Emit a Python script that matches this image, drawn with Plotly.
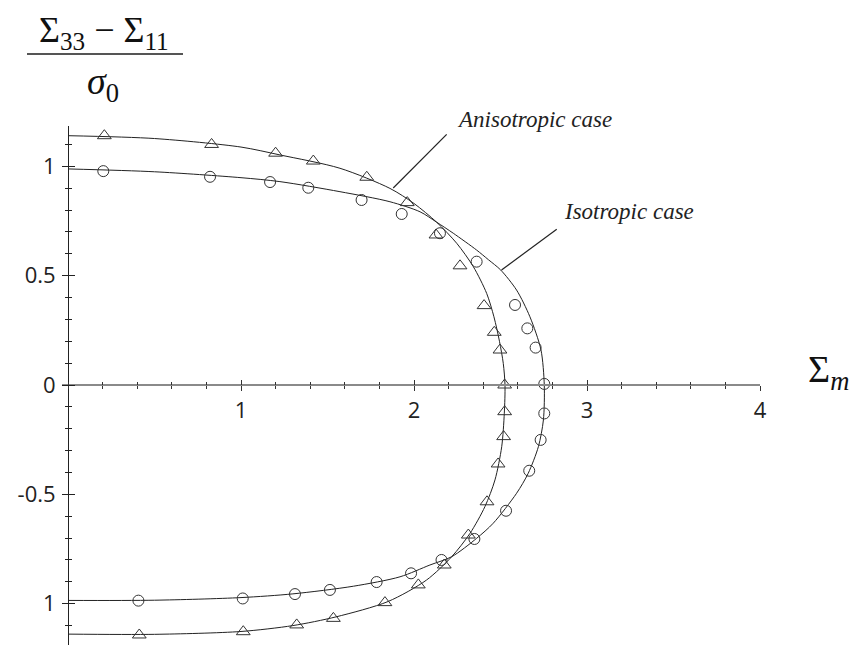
import plotly.graph_objects as go

aniso_curve_x = [0, 0.5, 1.0, 1.225, 1.572, 1.861, 2.0, 2.13, 2.247, 2.343, 2.42, 2.462, 2.494, 2.516, 2.526,
                 2.522, 2.507, 2.468, 2.41, 2.324, 2.218, 2.072, 1.85, 1.55, 1.3, 1.0, 0.5, 0]
aniso_curve_y = [1.14, 1.127, 1.088, 1.052, 0.991, 0.899, 0.83, 0.745, 0.648, 0.541, 0.419, 0.312, 0.2, 0.099, 0.0,
                 -0.129, -0.282, -0.434, -0.556, -0.678, -0.785, -0.892, -0.99, -1.06, -1.1, -1.127, -1.14, -1.139]

iso_curve_x = [0, 0.5, 1.0, 1.225, 1.572, 1.861, 2.035, 2.13, 2.227, 2.362, 2.43, 2.501, 2.593, 2.67, 2.734, 2.753,
               2.748, 2.719, 2.66, 2.593, 2.458, 2.362, 2.218, 2.092, 1.919, 1.65, 1.3, 1.0, 0.5, 0]
iso_curve_y = [0.988, 0.975, 0.948, 0.93, 0.884, 0.838, 0.792, 0.745, 0.694, 0.617, 0.573, 0.526, 0.434, 0.312, 0.16, 0.0,
               -0.16, -0.282, -0.404, -0.495, -0.632, -0.701, -0.785, -0.823, -0.877, -0.92, -0.955, -0.972, -0.984, -0.985]

# simulation points
aniso_pts_x = [0.21, 0.83, 1.20, 1.418, 1.727, 1.961, 2.127, 2.266, 2.405, 2.464, 2.497, 2.524,
               2.524, 2.518, 2.486, 2.422, 2.314, 2.175, 2.025, 1.832, 1.534, 1.322, 1.013, 0.412]
aniso_pts_y = [1.14, 1.10, 1.06, 1.024, 0.950, 0.834, 0.686, 0.545, 0.363, 0.241, 0.160, 0.0,
               -0.122, -0.236, -0.361, -0.534, -0.686, -0.823, -0.914, -0.995, -1.067, -1.097, -1.128, -1.143]

iso_pts_x = [0.204, 0.821, 1.168, 1.389, 1.697, 1.929, 2.150, 2.362, 2.584, 2.655, 2.703, 2.753,
             2.753, 2.732, 2.666, 2.532, 2.349, 2.159, 1.983, 1.784, 1.514, 1.312, 1.010, 0.407]
iso_pts_y = [0.978, 0.952, 0.928, 0.902, 0.846, 0.782, 0.694, 0.564, 0.366, 0.259, 0.171, 0.005,
             -0.130, -0.251, -0.392, -0.575, -0.704, -0.800, -0.861, -0.901, -0.937, -0.956, -0.976, -0.986]

x_ticks = [1, 2, 3, 4]
x_ticktext = ['1', '2', '3', '4']
y_ticks = [-1, -0.5, 0, 0.5, 1]
y_ticktext = ['1', '-0.5', '0', '0.5', '1']

# the page body adds an 8px margin, so the figure is 8px smaller than the window
OFF = 8
W, H = 861 - OFF, 646 - OFF
L, R, T, B = 62 - OFF, 101, 126 - OFF, 1
PW, PH = W - L - R, H - T - B
XR = [-0.0347, 4.0]
YR = [-1.1888, 1.1843]


def px(xp):
    # window pixel -> paper x
    return (xp - OFF - L) / PW


def py(yp):
    # window pixel -> paper y
    return (H - B - (yp - OFF)) / PH


fig = go.Figure()

fig.add_trace(go.Scatter(x=aniso_curve_x, y=aniso_curve_y, mode='lines',
                         line=dict(color='#222', width=1, shape='spline', smoothing=0.8),
                         showlegend=False, hoverinfo='skip'))
fig.add_trace(go.Scatter(x=iso_curve_x, y=iso_curve_y, mode='lines',
                         line=dict(color='#222', width=1, shape='spline', smoothing=0.8),
                         showlegend=False, hoverinfo='skip'))
fig.add_trace(go.Scatter(x=aniso_pts_x, y=aniso_pts_y, mode='markers',
                         marker=dict(symbol='triangle-up-open', size=12, color='#333',
                                     line=dict(width=1, color='#333')),
                         showlegend=False))
fig.add_trace(go.Scatter(x=iso_pts_x, y=iso_pts_y, mode='markers',
                         marker=dict(symbol='circle-open', size=11, color='#333',
                                     line=dict(width=1, color='#333')),
                         showlegend=False))
# empty trace so the overlay axes (inner half of the ticks) get drawn
fig.add_trace(go.Scatter(x=[], y=[], xaxis='x2', yaxis='y2', showlegend=False))

tickfont = dict(family='Open Sans', size=22, color='#222')
xpos = py(385)
ypos = px(68)

fig.update_layout(
    width=W, height=H,
    margin=dict(l=L, r=R, t=T, b=B),
    paper_bgcolor='white', plot_bgcolor='white',
    xaxis=dict(range=XR, anchor='free', position=xpos, side='bottom',
               showgrid=False, zeroline=False, showline=True, linecolor='#8a8a8a', linewidth=2,
               tickmode='array', tickvals=x_ticks, ticktext=x_ticktext,
               ticks='outside', ticklen=5, tickwidth=1, tickcolor='#333',
               minor=dict(tickmode='linear', tick0=0, dtick=0.2, ticks='outside',
                          ticklen=3, tickwidth=1, tickcolor='#333', showgrid=False),
               tickfont=tickfont, ticklabelstandoff=1, automargin=False),
    yaxis=dict(range=YR, anchor='free', position=ypos, side='left',
               showgrid=False, zeroline=False, showline=True, linecolor='#222', linewidth=1,
               tickmode='array', tickvals=y_ticks, ticktext=y_ticktext,
               ticks='outside', ticklen=6, tickwidth=1, tickcolor='#222',
               minor=dict(tickmode='linear', tick0=0, dtick=0.1, ticks='outside',
                          ticklen=3, tickwidth=1, tickcolor='#222', showgrid=False),
               tickfont=tickfont, ticklabelstandoff=2, automargin=False),
    xaxis2=dict(range=XR, overlaying='x', anchor='free', position=xpos, side='bottom',
                showgrid=False, zeroline=False, showline=False, showticklabels=False,
                tickmode='array', tickvals=x_ticks,
                ticks='inside', ticklen=5, tickwidth=1, tickcolor='#333',
                minor=dict(tickmode='linear', tick0=0, dtick=0.2, ticks='inside',
                           ticklen=3, tickwidth=1, tickcolor='#333', showgrid=False)),
    yaxis2=dict(range=YR, overlaying='y', anchor='free', position=ypos, side='left',
                showgrid=False, zeroline=False, showline=False, showticklabels=False,
                tickmode='array', tickvals=y_ticks,
                ticks='inside', ticklen=6, tickwidth=1, tickcolor='#222',
                minor=dict(tickmode='linear', tick0=0, dtick=0.1, ticks='inside',
                           ticklen=3, tickwidth=1, tickcolor='#222', showgrid=False)),
)

serif = 'Liberation Serif'

# leader lines for the curve labels
fig.add_shape(type='line', xref='x', yref='y', x0=2.189, y0=1.146, x1=1.880, y1=0.901,
              line=dict(color='#222', width=1.2))
fig.add_shape(type='line', xref='x', yref='y', x0=2.825, y0=0.712, x1=2.506, y1=0.526,
              line=dict(color='#222', width=1.2))
fig.add_annotation(x=px(455), y=py(119), xref='paper', yref='paper', xanchor='left', yanchor='middle',
                   text='<i>Anisotropic case</i>', showarrow=False,
                   font=dict(family=serif, size=23, color='#222'))
fig.add_annotation(x=px(562), y=py(212), xref='paper', yref='paper', xanchor='left', yanchor='middle',
                   text='<i>Isotropic case</i>', showarrow=False,
                   font=dict(family=serif, size=23, color='#222'))

# y-axis label as a fraction
fig.add_annotation(x=px(104), y=py(8), xref='paper', yref='paper', xanchor='center', yanchor='top',
                   text='Σ<sub>33</sub> − Σ<sub>11</sub>', showarrow=False,
                   font=dict(family=serif, size=36, color='#111'))
fig.add_shape(type='line', xref='paper', yref='paper', x0=px(27), x1=px(183), y0=py(54), y1=py(54),
              line=dict(color='#555', width=2))
fig.add_annotation(x=px(103), y=py(84), xref='paper', yref='paper', xanchor='center', yanchor='middle',
                   text='<i>σ</i><sub>0</sub>', showarrow=False,
                   font=dict(family=serif, size=38, color='#111'))

# x-axis label
fig.add_annotation(x=px(806), y=py(372), xref='paper', yref='paper', xanchor='left', yanchor='middle',
                   text='Σ<sub><i>m</i></sub>', showarrow=False,
                   font=dict(family=serif, size=38, color='#111'))

fig.write_html("out.html")
